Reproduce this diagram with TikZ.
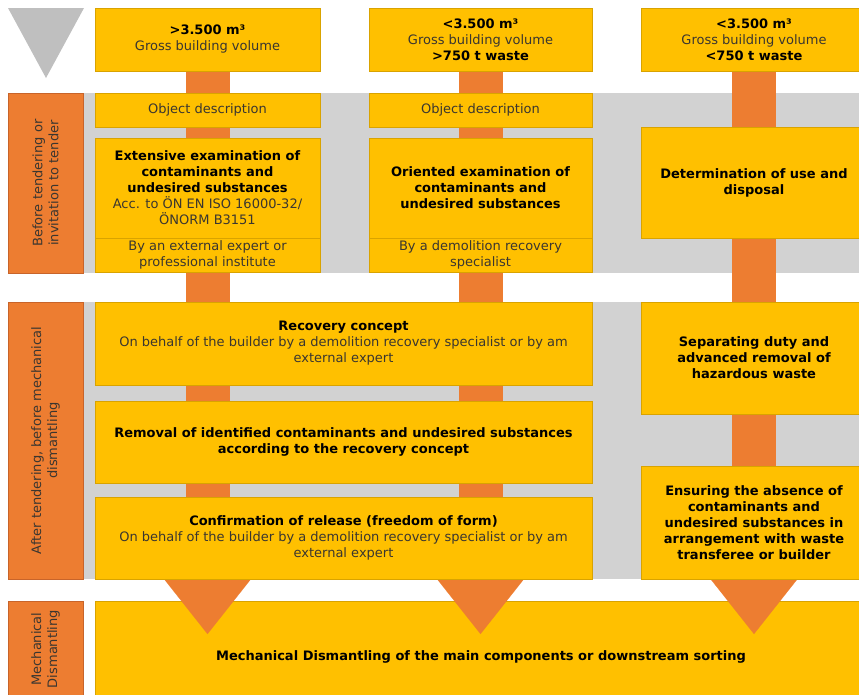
\documentclass[tikz,border=0pt]{standalone}
\usepackage{fontspec}
\setmainfont{DejaVu Sans}
\usetikzlibrary{arrows.meta}

\pgfdeclarelayer{bands}
\pgfdeclarelayer{bars}
\pgfsetlayers{bands,bars,main}

\definecolor{boxfill}{HTML}{FFC000}
\definecolor{boxline}{HTML}{D9A300}
\definecolor{barorange}{HTML}{ED7D31}
\definecolor{labelline}{HTML}{C8642A}
\definecolor{bandgray}{HTML}{D2D2D2}
\definecolor{textgray}{HTML}{3A3630}

\newcommand{\hd}[1]{{\color{black}\bfseries #1}}

\begin{document}
\begin{tikzpicture}[
    x=1pt, y=-1pt,
    every node/.style={
        font=\fontsize{13}{16}\selectfont,
        inner sep=2pt
    },
    box/.style={draw=boxline, fill=boxfill, line width=0.8pt,
        align=center, text=textgray},
    stage/.style={draw=labelline, fill=barorange, line width=0.8pt,
        align=center, text=textgray, rotate=90},
    bar/.style={draw=barorange, line width=44pt,
        -{Triangle[width=87pt,length=55pt,line width=0.1pt]}}
]

\useasboundingbox (0,0) rectangle (859,694);

%---------------------------------
% Stages
%---------------------------------

\fill[black!25] (8,8) -- (84,8) -- (46,78) -- cycle;

\node[stage, minimum width=180pt, minimum height=75pt] (lab1) at (45.5,183)
    {Before tendering or\\invitation to tender};
\node[stage, minimum width=277pt, minimum height=75pt] (lab2) at (45.5,440.5)
    {After tendering, before mechanical\\dismantling};
\node[stage, minimum width=96pt, minimum height=75pt] (lab3) at (45.5,649)
    {Mechanical\\Dismantling};

%---------------------------------
% Top row
%---------------------------------

\node[box, minimum width=225pt, minimum height=63pt] (topA) at (207.5,39.5)
    {\hd{>3.500 m³}\\Gross building volume};
\node[box, minimum width=223pt, minimum height=63pt] (topB) at (480.5,39.5)
    {\hd{<3.500 m³}\\Gross building volume\\\hd{>750 t waste}};
\node[box, minimum width=226pt, minimum height=63pt] (topC) at (754,39.5)
    {\hd{<3.500 m³}\\Gross building volume\\\hd{<750 t waste}};

%---------------------------------
% Before tendering
%---------------------------------

\node[box, minimum width=225pt, minimum height=34pt] (objA) at (207.5,110)
    {Object description};
\node[box, minimum width=223pt, minimum height=34pt] (objB) at (480.5,110)
    {Object description};

\node[box, minimum width=225pt, minimum height=100pt] (examA) at (207.5,188)
    {\hd{Extensive examination of}\\\hd{contaminants and}\\\hd{undesired substances}\\
     Acc. to ÖN EN ISO 16000-32/\\ÖNORM B3151};
\node[box, minimum width=225pt, minimum height=34pt] (byA) at (207.5,255)
    {By an external expert or\\professional institute};

\node[box, minimum width=223pt, minimum height=100pt] (examB) at (480.5,188)
    {\hd{Oriented examination of}\\\hd{contaminants and}\\\hd{undesired substances}};
\node[box, minimum width=223pt, minimum height=34pt] (byB) at (480.5,255)
    {By a demolition recovery\\specialist};

\node[box, minimum width=226pt, minimum height=111pt] (detC) at (754,182.5)
    {\hd{Determination of use and}\\\hd{disposal}};

%---------------------------------
% After tendering
%---------------------------------

\node[box, minimum width=497pt, minimum height=83pt] (recA) at (343.5,343.5)
    {\hd{Recovery concept}\\
     On behalf of the builder by a demolition recovery specialist or by am\\external expert};
\node[box, minimum width=497pt, minimum height=82pt] (remA) at (343.5,442)
    {\hd{Removal of identified contaminants and undesired substances}\\
     \hd{according to the recovery concept}};
\node[box, minimum width=497pt, minimum height=82pt] (confA) at (343.5,538)
    {\hd{Confirmation of release (freedom of form)}\\
     On behalf of the builder by a demolition recovery specialist or by am\\external expert};

\node[box, minimum width=226pt, minimum height=112pt] (sepC) at (754,358)
    {\hd{Separating duty and}\\\hd{advanced removal of}\\\hd{hazardous waste}};
\node[box, minimum width=226pt, minimum height=113pt] (ensC) at (754,522.5)
    {\hd{Ensuring the absence of}\\\hd{contaminants and}\\\hd{undesired substances in}\\
     \hd{arrangement with waste}\\\hd{transferee or builder}};

% Arrow ends
\coordinate (tipA) at (207.5,634);
\coordinate (tipB) at (480.5,634);
\coordinate (tipC) at (754,634);

%---------------------------------
% Bands and bars
%---------------------------------

\begin{pgfonlayer}{bands}
\fill[bandgray] (83,93) rectangle (867,273);
\fill[bandgray] (83,302) rectangle (867,579);
\node[box, minimum width=772pt, minimum height=112pt] (dis) at (481,657)
    {\hd{Mechanical Dismantling of the main components or downstream sorting}};
\end{pgfonlayer}

\begin{pgfonlayer}{bars}
\draw[bar] (topA.south) -- (tipA);
\draw[bar] (topB.south) -- (tipB);
\draw[bar] (topC.south) -- (tipC);
\end{pgfonlayer}

\end{tikzpicture}
\end{document}
